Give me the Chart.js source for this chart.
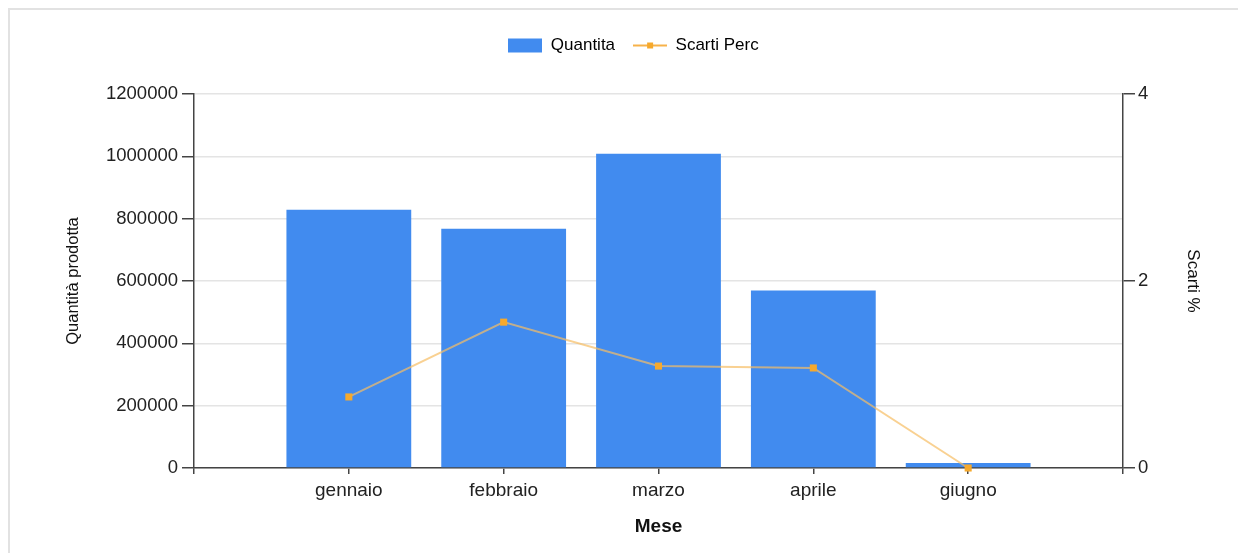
<!DOCTYPE html>
<html>
<head>
<meta charset="utf-8">
<script src="https://cdn.jsdelivr.net/npm/chart.js@4"></script>
<style>
  body { margin: 0; background: #fff; }
  #frame { position: absolute; left: 8px; top: 8px; width: 1240px; height: 560px;
           border-left: 2px solid #e2e2e2; border-top: 2px solid #e2e2e2; }
  #wrap { position: absolute; left: 0; top: 0; width: 1238px; height: 553px; }
</style>
</head>
<body>
<div id="frame"></div>
<div id="wrap"><canvas id="chart" width="1238" height="553"></canvas></div>
<script>
// mesi e valori
const mesi = ['gennaio', 'febbraio', 'marzo', 'aprile', 'giugno'];
const quantita = [828800, 768000, 1008000, 569600, 16000];
const scartiPerc = [0.76, 1.56, 1.09, 1.07, 0];

const barColor = '#418bef';
const lineColor = 'rgba(247,190,100,0.7)';
const pointColor = '#f6a92c';
const FONT = "'Liberation Sans', Arial, sans-serif";

// una colonna vuota prima e dopo i mesi
const labels = [''].concat(mesi, ['']);
const pad = arr => [null].concat(arr, [null]);

// icone legenda
function legendIcon(kind) {
    const c = document.createElement('canvas');
    c.width = 34; c.height = 16;
    const g = c.getContext('2d');
    if (kind === 'bar') {
        g.fillStyle = barColor;
        g.fillRect(0, 1, 34, 14);
    } else {
        g.strokeStyle = '#f7b24a';
        g.lineWidth = 2;
        g.beginPath(); g.moveTo(0, 8); g.lineTo(34, 8); g.stroke();
        g.fillStyle = pointColor;
        g.fillRect(14, 5, 6, 6);
    }
    return c;
}

// spazio extra sotto la legenda
const legendGap = {
    id: 'legendGap',
    beforeInit(chart) {
        const fit = chart.legend.fit;
        chart.legend.fit = function () {
            fit.call(this);
            this.height += 30;
        };
    }
};

const ctx = document.getElementById('chart').getContext('2d');
new Chart(ctx, {
    type: 'bar',
    data: {
        labels: labels,
        datasets: [
            {
                type: 'line',
                label: 'Scarti Perc',
                data: pad(scartiPerc),
                yAxisID: 'y2',
                borderColor: lineColor,
                borderWidth: 2,
                pointStyle: 'rect',
                pointRadius: 5,
                pointBackgroundColor: pointColor,
                pointBorderColor: pointColor,
                pointBorderWidth: 0,
                tension: 0,
                clip: false,
                order: 0
            },
            {
                label: 'Quantita',
                data: pad(quantita),
                yAxisID: 'y',
                backgroundColor: barColor,
                categoryPercentage: 1,
                barPercentage: 0.806,
                order: 1
            }
        ]
    },
    plugins: [legendGap],
    options: {
        responsive: false,
        animation: false,
        layout: { padding: { left: 60, right: 31, top: 19, bottom: 10 } },
        plugins: {
            tooltip: { enabled: false },
            legend: {
                position: 'top',
                labels: {
                    usePointStyle: true,
                    pointStyleWidth: 34,
                    padding: 18,
                    color: '#222',
                    font: { family: FONT, size: 17 },
                    generateLabels: () => [
                        { text: 'Quantita', pointStyle: legendIcon('bar'), datasetIndex: 1, hidden: false, lineWidth: 0 },
                        { text: 'Scarti Perc', pointStyle: legendIcon('line'), datasetIndex: 0, hidden: false, lineWidth: 0 }
                    ]
                }
            }
        },
        scales: {
            x: {
                offset: false,
                grid: { offset: false, drawOnChartArea: false, drawTicks: true, tickLength: 6, color: '#444', lineWidth: 1.5 },
                border: { color: '#444', width: 1.5 },
                ticks: { color: '#222', padding: 5, font: { family: FONT, size: 19 }, maxRotation: 0, autoSkip: false },
                title: { display: true, text: 'Mese', color: '#111', padding: { top: 4, bottom: 5 },
                         font: { family: FONT, size: 19, weight: 'bold' } },
                afterFit: s => { s.height = 75; }
            },
            y: {
                position: 'left',
                min: 0, max: 1200000,
                ticks: { stepSize: 200000, color: '#222', padding: 4, font: { family: FONT, size: 18.5 },
                         callback: v => String(v) },
                grid: { color: '#e4e4e4', lineWidth: 1.5, tickLength: 12, tickColor: '#444' },
                border: { color: '#444', width: 1.5 },
                title: { display: true, text: 'Quantità prodotta', color: '#111', padding: { top: 4, bottom: 4 },
                         font: { family: FONT, size: 16.5 } },
                afterFit: s => { s.width = 134; }
            },
            y2: {
                position: 'right',
                min: 0, max: 4,
                ticks: { stepSize: 2, color: '#222', padding: 3, font: { family: FONT, size: 18.5 } },
                grid: { drawOnChartArea: false, tickLength: 12, color: '#444', lineWidth: 1.5 },
                border: { color: '#444', width: 1.5 },
                title: { display: true, text: 'Scarti %', color: '#111', padding: { top: 4, bottom: 4 },
                         font: { family: FONT, size: 17 } },
                afterFit: s => { s.width = 84; }
            }
        }
    }
});
</script>
</body>
</html>
